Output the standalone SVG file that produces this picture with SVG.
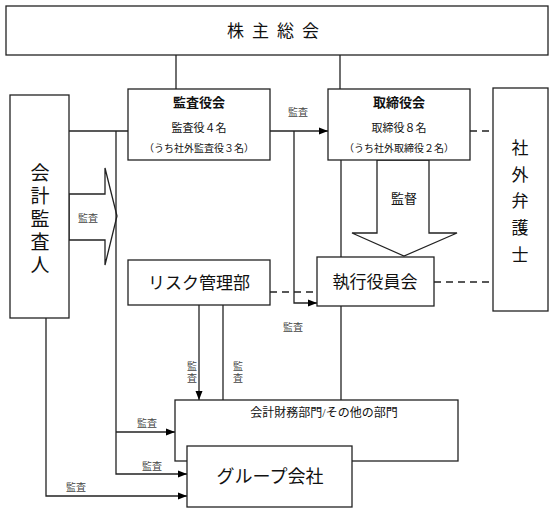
<svg xmlns="http://www.w3.org/2000/svg" width="554" height="513" viewBox="0 0 554 513">
<defs>
<marker id="ah" markerWidth="9" markerHeight="8" refX="9" refY="4" orient="auto" markerUnits="userSpaceOnUse"><path d="M0,0.5 L9,4 L0,7.5 Z" fill="#000"/></marker>
<style>
.box{fill:#fff;stroke:#222;stroke-width:1.3}
.ln{fill:none;stroke:#222;stroke-width:1.3}
.ds{fill:none;stroke:#222;stroke-width:1.6;stroke-dasharray:7,5}
text{font-family:"Liberation Serif","Noto Sans CJK JP",serif;fill:#111;text-anchor:middle;dominant-baseline:central}
.lb{font-size:10px;fill:#444}
</style>
</defs>
<g id="connectors">
<line class="ln" x1="176" y1="55" x2="176" y2="89"/>
<line class="ln" x1="340" y1="55" x2="340" y2="89"/>
<line class="ln" x1="69" y1="131" x2="128" y2="131"/>
<line class="ln" x1="270" y1="131" x2="328" y2="131" marker-end="url(#ah)"/>
<line class="ds" x1="470" y1="131" x2="493" y2="131"/>
<polyline class="ln" points="116,131 116,474 187,474" marker-end="url(#ah)"/>
<line class="ln" x1="116" y1="432" x2="175" y2="432" marker-end="url(#ah)"/>
<polyline class="ln" points="46,318 46,496 187,496" marker-end="url(#ah)"/>
<polygon class="ln" fill="#fff" points="69,194 105,194 105,168 117,216 105,265 105,240 69,240"/>
<polyline class="ln" points="294,131 294,303 317,303" marker-end="url(#ah)"/>
<line class="ln" x1="341" y1="160" x2="341" y2="257"/>
<line class="ln" x1="341" y1="306" x2="341" y2="400"/>
<polygon class="ln" fill="#fff" points="377,160 429,160 429,233 457,233 404,256 352,233 377,233"/>
<line class="ds" x1="434" y1="282" x2="493" y2="282"/>
<line class="ds" x1="270" y1="292" x2="317" y2="292"/>
<line class="ln" x1="199" y1="305" x2="199" y2="400" marker-end="url(#ah)"/>
<line class="ln" x1="223" y1="305" x2="223" y2="442" marker-end="url(#ah)"/>
<text class="lb" x="298" y="112">監査</text>
<text class="lb" x="88" y="218">監査</text>
<text style="font-size:13px" x="404" y="198">監督</text>
<text class="lb" x="293" y="327">監査</text>
<text class="lb" x="192" y="366">監</text>
<text class="lb" x="192" y="378">査</text>
<text class="lb" x="238" y="366">監</text>
<text class="lb" x="238" y="378">査</text>
<text class="lb" x="147" y="423">監査</text>
<text class="lb" x="152" y="466">監査</text>
<text class="lb" x="76" y="487">監査</text>
</g>
<g id="shareholders">
<rect class="box" x="6" y="6" width="542" height="49"/>
<text x="277" y="31" style="font-size:17px;letter-spacing:8px">株主総会</text>
</g>
<g id="auditor">
<rect class="box" x="10" y="95" width="59" height="223"/>
<text x="40" y="173" style="font-size:19px">会</text>
<text x="40" y="196" style="font-size:19px">計</text>
<text x="40" y="219" style="font-size:19px">監</text>
<text x="40" y="242" style="font-size:19px">査</text>
<text x="40" y="265" style="font-size:19px">人</text>
</g>
<g id="kansayakukai">
<rect class="box" x="128" y="89" width="142" height="71"/>
<text x="199" y="102" style="font-size:13px;font-weight:bold">監査役会</text>
<text x="199" y="128" style="font-size:11px">監査役４名</text>
<text x="199" y="148" style="font-size:10px">（うち社外監査役３名）</text>
</g>
<g id="torishimariyakukai">
<rect class="box" x="328" y="89" width="142" height="71"/>
<text x="399" y="102" style="font-size:13px;font-weight:bold">取締役会</text>
<text x="399" y="128" style="font-size:11px">取締役８名</text>
<text x="399" y="148" style="font-size:10px">（うち社外取締役２名）</text>
</g>
<g id="lawyer">
<rect class="box" x="493" y="88" width="55" height="223"/>
<text x="520" y="148" style="font-size:17px">社</text>
<text x="520" y="175" style="font-size:17px">外</text>
<text x="520" y="201" style="font-size:17px">弁</text>
<text x="520" y="228" style="font-size:17px">護</text>
<text x="520" y="255" style="font-size:17px">士</text>
</g>
<g id="risk">
<rect class="box" x="128" y="260" width="142" height="45"/>
<text x="199" y="283" style="font-size:17px">リスク管理部</text>
</g>
<g id="executive">
<rect class="box" x="317" y="257" width="117" height="49"/>
<text x="375" y="282" style="font-size:17px">執行役員会</text>
</g>
<g id="accounting">
<rect class="box" x="175" y="400" width="283" height="61"/>
<text x="324" y="413" style="font-size:12px">会計財務部門/その他の部門</text>
</g>
<g id="group">
<rect class="box" x="187" y="446" width="165" height="61"/>
<text x="270" y="477" style="font-size:18px">グループ会社</text>
</g>
</svg>
